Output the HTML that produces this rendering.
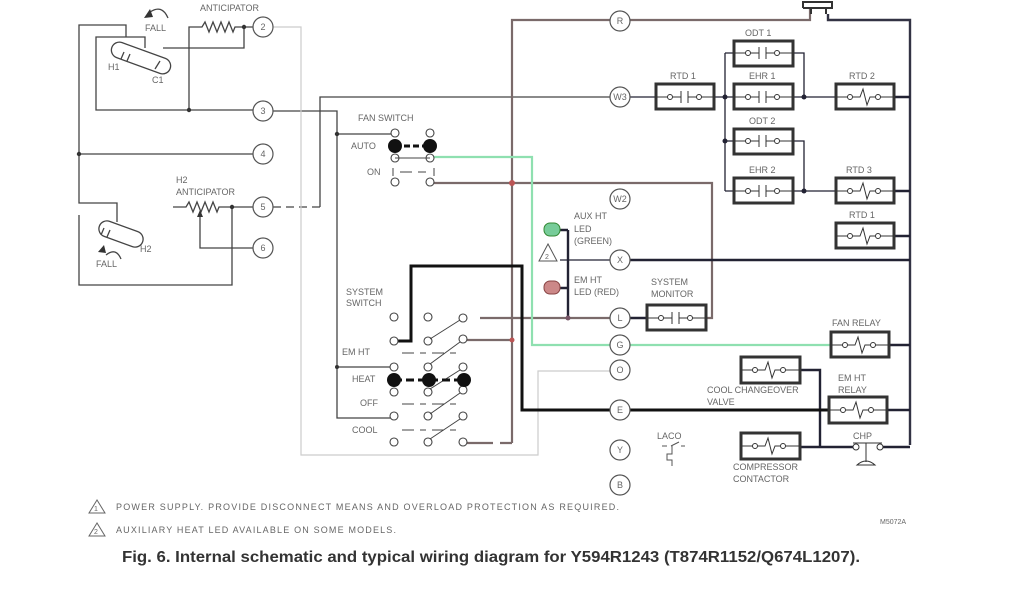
<!DOCTYPE html>
<html><head><meta charset="utf-8"><style>
html,body{margin:0;padding:0;background:#fff}
svg{display:block}
text{font-family:"Liberation Sans",sans-serif;fill:#666;font-size:9px}
</style></head><body>
<svg width="1024" height="600" viewBox="0 0 1024 600" xmlns="http://www.w3.org/2000/svg">
<g fill="none" stroke="#444" stroke-width="1.3">
<path d="M126,37 V25 H79 V203 H117 V222"/>
<path d="M145,48 V37 H96 V110 H253"/>
<path d="M79,154 H253"/>
<path d="M79,215 V285 H232 V206"/>
<path d="M189,110 V27 H202 l3,-5 4,10 4,-10 4,10 4,-10 4,10 4,-10 4,10 2,-5 H253"/>
<path d="M244,27 V48 H163"/>
<path d="M173,207 H186 l3,-5 4,10 4,-10 4,10 4,-10 4,10 4,-10 4,10 2,-5 H253"/>
<path d="M200,216 V248 H253"/>
<path d="M273,111 H337 V418 H393"/>
<path d="M337,134 H393"/>
<path d="M337,367 H393"/>
<path d="M273,207 H320" stroke-dasharray="8,5"/>
<path d="M320,207 V97 H610"/>
</g>
<polygon points="200,210 197,217 203,217" fill="#333"/>
<g fill="#333"><circle cx="79" cy="154" r="2.2"/><circle cx="189" cy="110" r="2.2"/><circle cx="244" cy="27" r="2.2"/><circle cx="232" cy="207" r="2.2"/><circle cx="337" cy="134" r="2.2"/><circle cx="337" cy="367" r="2"/></g>
<g fill="none" stroke="#444" stroke-width="1.3">
<rect x="110" y="50" width="62" height="16" rx="8" transform="rotate(20 141 58)"/>
<rect x="98" y="226" width="46" height="16" rx="8" transform="rotate(20 121 234)"/>
<path d="M124,52 l-3,7 M130,54 l-3,7 M160,61 l-5,8 M104,228 l-3,7 M110,230 l-3,7"/>
<path d="M150,12 q12,-8 18,6 M106,255 q10,-8 15,4"/>
</g>
<polygon points="144,18 150,9 153,17" fill="#333"/>
<polygon points="98,252 104,245 106,253" fill="#333"/>
<path d="M273,27 H301 V455 H538 V371 H610" fill="none" stroke="#ccc" stroke-width="1.2"/>
<g fill="none" stroke="#7a6a6a" stroke-width="2.2">
<path d="M512,443 V20 H610"/>
<path d="M630,20 H810 V8"/>
<path d="M429,183 H712 V318 H706"/>
<path d="M480,318 H610"/>
<path d="M465,340 H512"/>
<path d="M466,443 H493 M500,443 H512"/>
</g>
<path d="M803,8 V2 H832 V8 H803 M811,8 V14 M826,8 V14" fill="none" stroke="#333" stroke-width="2"/>
<path d="M828,14 V20 H910 V445" fill="none" stroke="#334" stroke-width="2.4"/>
<circle cx="512" cy="183" r="3" fill="#b55"/><circle cx="512" cy="340" r="2.5" fill="#b55"/>
<path d="M431,157 H532 V345 H610 M630,345 H831" fill="none" stroke="#8fe0b0" stroke-width="2.2"/>
<g fill="none" stroke="#223" stroke-width="1.3">
<path d="M630,97 H656 M714,97 H734 M793,97 H836 M725,53 V191 M725,53 H734 M725,141 H734 M725,191 H734 M793,53 H804 V97 M793,141 H804 V191 M793,191 H836"/>
<path d="M560,260 H610"/>
</g>
<g fill="none" stroke="#223" stroke-width="2.4">
<path d="M630,260 H910 M894,97 H910 M894,191 H910 M894,236 H910 M889,345 H910 M887,410 H910 M800,370 H820 V447 M800,447 H853 M883,447 H910"/>
<path d="M630,318 H647"/>
<path d="M568,230 V318 M560,230 H568 M560,288 H568"/>
</g>
<g fill="#223"><circle cx="725" cy="97" r="2.5"/><circle cx="725" cy="141" r="2.5"/><circle cx="804" cy="97" r="2.5"/><circle cx="804" cy="191" r="2.5"/><circle cx="568" cy="318" r="2.5" fill="#756"/></g>
<path d="M398,341 H411 V266 H522 V410 H610 M630,410 H829" fill="none" stroke="#111" stroke-width="3"/>
<g fill="#fff" stroke="#555" stroke-width="1.2">
<circle cx="263" cy="27" r="10"/><circle cx="263" cy="111" r="10"/><circle cx="263" cy="154" r="10"/><circle cx="263" cy="207" r="10"/><circle cx="263" cy="248" r="10"/>
<circle cx="620" cy="21" r="10"/><circle cx="620" cy="97" r="10"/><circle cx="620" cy="199" r="10"/><circle cx="620" cy="260" r="10"/><circle cx="620" cy="318" r="10"/><circle cx="620" cy="345" r="10"/><circle cx="620" cy="370" r="10"/><circle cx="620" cy="410" r="10"/><circle cx="620" cy="450" r="10"/><circle cx="620" cy="485" r="10"/>
</g>
<g text-anchor="middle">
<text x="263" y="30">2</text><text x="263" y="114">3</text><text x="263" y="157">4</text><text x="263" y="210">5</text><text x="263" y="251">6</text>
<text x="620" y="24">R</text><text x="620" y="100">W3</text><text x="620" y="202">W2</text><text x="620" y="263">X</text><text x="620" y="321">L</text><text x="620" y="348">G</text><text x="620" y="373">O</text><text x="620" y="413">E</text><text x="620" y="453">Y</text><text x="620" y="488">B</text>
</g>
<g fill="#fff" stroke="#333" stroke-width="3">
<rect x="734" y="41" width="59" height="25"/><rect x="656" y="84" width="58" height="25"/><rect x="734" y="84" width="59" height="25"/><rect x="836" y="84" width="58" height="25"/>
<rect x="734" y="129" width="59" height="25"/><rect x="734" y="178" width="59" height="25"/><rect x="836" y="178" width="58" height="25"/><rect x="836" y="223" width="58" height="25"/>
<rect x="647" y="305" width="59" height="25"/><rect x="831" y="332" width="58" height="25"/><rect x="741" y="357" width="59" height="26"/><rect x="829" y="397" width="58" height="26"/><rect x="741" y="433" width="59" height="26"/>
</g>
<g fill="none" stroke="#333" stroke-width="1">
<path d="M734,53 H746 M751,53 H759 M759,47 V59 M766,47 V59 M766,53 H774 M779,53 H793"/>
<path d="M656,97 H668 M673,97 H681 M681,91 V103 M688,91 V103 M688,97 H696 M701,97 H714"/>
<path d="M734,97 H746 M751,97 H759 M759,91 V103 M766,91 V103 M766,97 H774 M779,97 H793"/>
<path d="M734,141 H746 M751,141 H759 M759,135 V147 M766,135 V147 M766,141 H774 M779,141 H793"/>
<path d="M734,191 H746 M751,191 H759 M759,185 V197 M766,185 V197 M766,191 H774 M779,191 H793"/>
<path d="M647,318 H659 M664,318 H672 M672,312 V324 M679,312 V324 M679,318 H687 M692,318 H706"/>
<path d="M836,97 H848 M853,97 L860,97 863,89 867,105 870,97 H875 M880,97 H894"/>
<path d="M836,191 H848 M853,191 L860,191 863,183 867,199 870,191 H875 M880,191 H894"/>
<path d="M836,236 H848 M853,236 L860,236 863,228 867,244 870,236 H875 M880,236 H894"/>
<path d="M831,345 H843 M848,345 L855,345 858,337 862,353 865,345 H870 M875,345 H889"/>
<path d="M741,370 H753 M758,370 L765,370 768,362 772,378 775,370 H780 M785,370 H800"/>
<path d="M829,410 H841 M846,410 L853,410 856,402 860,418 863,410 H868 M873,410 H887"/>
<path d="M741,446 H753 M758,446 L765,446 768,438 772,454 775,446 H780 M785,446 H800"/>
</g>
<g fill="#fff" stroke="#333" stroke-width="1">
<circle cx="748" cy="53" r="2.5"/><circle cx="777" cy="53" r="2.5"/><circle cx="670" cy="97" r="2.5"/><circle cx="699" cy="97" r="2.5"/><circle cx="748" cy="97" r="2.5"/><circle cx="777" cy="97" r="2.5"/><circle cx="748" cy="141" r="2.5"/><circle cx="777" cy="141" r="2.5"/><circle cx="748" cy="191" r="2.5"/><circle cx="777" cy="191" r="2.5"/><circle cx="661" cy="318" r="2.5"/><circle cx="690" cy="318" r="2.5"/>
<circle cx="850" cy="97" r="2.5"/><circle cx="878" cy="97" r="2.5"/><circle cx="850" cy="191" r="2.5"/><circle cx="878" cy="191" r="2.5"/><circle cx="850" cy="236" r="2.5"/><circle cx="878" cy="236" r="2.5"/><circle cx="845" cy="345" r="2.5"/><circle cx="873" cy="345" r="2.5"/><circle cx="755" cy="370" r="2.5"/><circle cx="783" cy="370" r="2.5"/><circle cx="843" cy="410" r="2.5"/><circle cx="871" cy="410" r="2.5"/><circle cx="755" cy="446" r="2.5"/><circle cx="783" cy="446" r="2.5"/>
<circle cx="856" cy="447" r="3"/><circle cx="880" cy="447" r="3"/>
</g>
<path d="M853,443 L882,443 M866,443 V462 M857,465 q9,-8 18,0 Z" fill="none" stroke="#333" stroke-width="1"/>
<path d="M662,446 h5 m4,0 l8,-4 m2,4 h4 M672,446 v8 h-5 v6 h5 v6" fill="none" stroke="#555" stroke-width="1"/>
<rect x="544" y="223" width="16" height="13" rx="6" fill="#7c9" stroke="#383" stroke-width="1"/>
<rect x="544" y="281" width="16" height="13" rx="6" fill="#c88" stroke="#844" stroke-width="1"/>
<polygon points="548,244 539,261 557,261" fill="none" stroke="#555" stroke-width="1"/>
<text x="545" y="259" style="font-size:7px">2</text>
<g fill="#fff" stroke="#444" stroke-width="1.1">
<circle cx="395" cy="133" r="4"/><circle cx="430" cy="133" r="4"/><circle cx="395" cy="158" r="4"/><circle cx="430" cy="158" r="4"/><circle cx="395" cy="182" r="4"/><circle cx="430" cy="182" r="4"/>
</g>
<path d="M395,158 H430 M400,172 H412 M418,172 H426 M393,168 v8 M434,168 v8" fill="none" stroke="#444" stroke-width="1"/>
<path d="M395,146 H430" stroke="#111" stroke-width="3" stroke-dasharray="6,3"/>
<circle cx="395" cy="146" r="7" fill="#111"/><circle cx="430" cy="146" r="7" fill="#111"/>
<g fill="#fff" stroke="#444" stroke-width="1.1">
<circle cx="394" cy="317" r="4"/><circle cx="428" cy="317" r="4"/><circle cx="463" cy="318" r="4"/>
<circle cx="394" cy="341" r="4"/><circle cx="428" cy="341" r="4"/><circle cx="463" cy="339" r="4"/>
<circle cx="394" cy="367" r="4"/><circle cx="428" cy="367" r="4"/><circle cx="463" cy="367" r="4"/>
<circle cx="394" cy="392" r="4"/><circle cx="428" cy="392" r="4"/><circle cx="463" cy="390" r="4"/>
<circle cx="394" cy="416" r="4"/><circle cx="428" cy="416" r="4"/><circle cx="463" cy="416" r="4"/>
<circle cx="394" cy="442" r="4"/><circle cx="428" cy="442" r="4"/><circle cx="463" cy="442" r="4"/>
</g>
<g fill="none" stroke="#444" stroke-width="1">
<path d="M430,339 L460,320 M430,364 L460,342 M430,389 L460,370 M430,414 L460,393 M430,439 L460,419"/>
<path d="M402,353 h12 m6,0 h6 m6,0 h12 m6,0 h6 M402,404 h12 m6,0 h6 m6,0 h12 m6,0 h6 M402,430 h12 m6,0 h6 m6,0 h12 m6,0 h6"/>
</g>
<path d="M394,380 H463" stroke="#111" stroke-width="3" stroke-dasharray="8,4"/>
<circle cx="394" cy="380" r="7" fill="#111"/><circle cx="429" cy="380" r="7" fill="#111"/><circle cx="464" cy="380" r="7" fill="#111"/>
<text x="200" y="11">ANTICIPATOR</text>
<text x="145" y="31">FALL</text>
<text x="108" y="70">H1</text>
<text x="152" y="83">C1</text>
<text x="176" y="183">H2</text>
<text x="176" y="195">ANTICIPATOR</text>
<text x="140" y="252">H2</text>
<text x="96" y="267">FALL</text>
<text x="358" y="121">FAN SWITCH</text>
<text x="351" y="149">AUTO</text>
<text x="367" y="175">ON</text>
<text x="346" y="295">SYSTEM</text>
<text x="346" y="306">SWITCH</text>
<text x="342" y="355">EM HT</text>
<text x="352" y="382">HEAT</text>
<text x="360" y="406">OFF</text>
<text x="352" y="433">COOL</text>
<text x="574" y="219">AUX HT</text>
<text x="574" y="232">LED</text>
<text x="574" y="244">(GREEN)</text>
<text x="574" y="283">EM HT</text>
<text x="574" y="295">LED (RED)</text>
<text x="651" y="285">SYSTEM</text>
<text x="651" y="297">MONITOR</text>
<text x="745" y="36">ODT 1</text>
<text x="670" y="79">RTD 1</text>
<text x="749" y="79">EHR 1</text>
<text x="849" y="79">RTD 2</text>
<text x="749" y="124">ODT 2</text>
<text x="749" y="173">EHR 2</text>
<text x="846" y="173">RTD 3</text>
<text x="849" y="218">RTD 1</text>
<text x="832" y="326">FAN RELAY</text>
<text x="707" y="393">COOL CHANGEOVER</text>
<text x="707" y="405">VALVE</text>
<text x="838" y="381">EM HT</text>
<text x="838" y="393">RELAY</text>
<text x="853" y="439">CHP</text>
<text x="657" y="439">LACO</text>
<text x="733" y="470">COMPRESSOR</text>
<text x="733" y="482">CONTACTOR</text>
<polygon points="97,500 89,513 105,513" fill="none" stroke="#666" stroke-width="1"/>
<text x="94" y="511" style="font-size:7px">1</text>
<polygon points="97,523 89,536 105,536" fill="none" stroke="#666" stroke-width="1"/>
<text x="94" y="534" style="font-size:7px">2</text>
<text x="116" y="510" textLength="503">POWER SUPPLY. PROVIDE DISCONNECT MEANS AND OVERLOAD PROTECTION AS REQUIRED.</text>
<text x="116" y="533" textLength="280">AUXILIARY HEAT LED AVAILABLE ON SOME MODELS.</text>
<text x="880" y="524" style="font-size:7px">M5072A</text>
<text x="122" y="562" style="font-size:16px;font-weight:bold;fill:#333" textLength="738" lengthAdjust="spacingAndGlyphs">Fig. 6. Internal schematic and typical wiring diagram for Y594R1243 (T874R1152/Q674L1207).</text>
</svg>
</body></html>
